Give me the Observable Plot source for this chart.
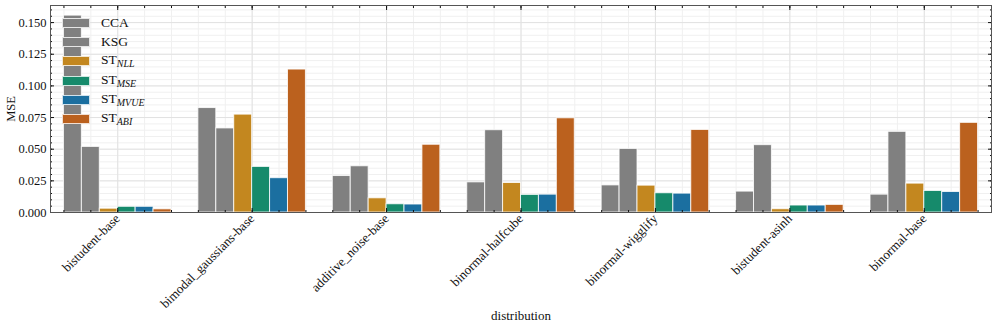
<!DOCTYPE html>
<html><head><meta charset="utf-8">
<script src="https://cdn.jsdelivr.net/npm/d3@7"></script>
<script src="https://cdn.jsdelivr.net/npm/@observablehq/plot@0.6"></script>
<style>
body{margin:0;background:#fff;font-family:"Liberation Serif","Times New Roman",serif;}
#wrap{position:relative;width:997px;height:327px;}
#legend{position:absolute;left:62px;top:13px;font-size:13.5px;color:#111;line-height:1;}
.row{display:flex;align-items:center;height:19.3px;}
.sw{width:28px;height:10px;box-sizing:border-box;border:1px solid rgba(255,255,255,0.8);margin-right:11px;}
sub{font-style:italic;font-size:10px;vertical-align:-3px;}
</style></head><body><div id="wrap"><div id="legend"></div></div>
<script>
const distributions = ["bistudent-base","bimodal_gaussians-base","additive_noise-base","binormal-halfcube","binormal-wigglify","bistudent-asinh","binormal-base"];
const methods = ["CCA","KSG","ST_NLL","ST_MSE","ST_MVUE","ST_ABI"];
const methodSubs = ["","","NLL","MSE","MVUE","ABI"];
const colors = ["#808080","#808080","#c3871f","#168a6b","#1b6fa0","#bb611e"];
const cca   = [0.1555,0.0825,0.0288,0.0238,0.0214,0.0165,0.0141];
const ksg   = [0.0518,0.0664,0.0365,0.0650,0.0502,0.0532,0.0637];
const stNLL = [0.0030,0.0773,0.0112,0.0233,0.0212,0.0026,0.0228];
const stMSE = [0.0045,0.0360,0.0065,0.0139,0.0152,0.0055,0.0170];
const stMVUE= [0.0045,0.0271,0.0063,0.0141,0.0149,0.0055,0.0162];
const stABI = [0.0025,0.1129,0.0535,0.0744,0.0652,0.0060,0.0708];
const yTicks = [0,0.025,0.05,0.075,0.1,0.125,0.15];
const yMinor = d3.range(0, 0.1631, 0.005);
const xMajor = d3.range(0, 7);
const xMinor = d3.range(-4, 65, 2).map(v => v / 10);

const series = [cca, ksg, stNLL, stMSE, stMVUE, stABI];
const groupWidth = 0.8, n = methods.length, bw = groupWidth / n;
const rows = [];
series.forEach((vals, m) => vals.forEach((v, d) => rows.push({
  d, m, method: methods[m], value: v,
  x1: d - groupWidth / 2 + m * bw, x2: d - groupWidth / 2 + (m + 1) * bw
})));

const font = "Liberation Serif";
const chart = Plot.plot({
  width: 997, height: 327,
  marginLeft: 50, marginRight: 6, marginTop: 5, marginBottom: 115,
  style: {fontFamily: font, fontSize: "12px", color: "#111", background: "#fff"},
  x: {type: "linear", domain: [-0.5, 6.5]},
  y: {domain: [0, 0.1635]},
  color: {domain: methods, range: colors},
  marks: [
    Plot.ruleY(yMinor, {stroke: "#f0f0f0", strokeWidth: 1}),
    Plot.ruleX(xMinor, {stroke: "#f0f0f0", strokeWidth: 1}),
    Plot.ruleY(yTicks, {stroke: "#e2e2e2", strokeWidth: 1}),
    Plot.ruleX(xMajor, {stroke: "#e2e2e2", strokeWidth: 1}),
    Plot.rectY(rows, {x1: "x1", x2: "x2", y: "value", fill: "method", stroke: "white", strokeOpacity: 0.8, strokeWidth: 1}),
    Plot.axisY(yTicks, {anchor: "left", tickSize: 0, tickPadding: 4, tickFormat: d3.format(".3f"), fontSize: 12.5,
      label: "MSE", labelAnchor: "center", labelOffset: 44, labelArrow: "none"}),
    Plot.axisY(yTicks, {anchor: "left", tickSize: -4, tickFormat: () => "", label: null}),
    Plot.axisY(yTicks, {anchor: "right", tickSize: -4, tickFormat: () => "", label: null}),
    Plot.axisY(yMinor, {anchor: "left", tickSize: -2, tickFormat: () => "", label: null}),
    Plot.axisY(yMinor, {anchor: "right", tickSize: -2, tickFormat: () => "", label: null}),
    Plot.axisX(xMajor, {anchor: "bottom", tickSize: 0, tickPadding: 4, tickRotate: -45, fontSize: 13,
      tickFormat: i => distributions[i], label: "distribution", labelAnchor: "center", labelOffset: 107, labelArrow: "none"}),
    Plot.axisX(xMajor, {anchor: "bottom", tickSize: -4, tickFormat: () => "", label: null}),
    Plot.axisX(xMajor, {anchor: "top", tickSize: -4, tickFormat: () => "", label: null}),
    Plot.axisX(xMinor, {anchor: "bottom", tickSize: -2, tickFormat: () => "", label: null}),
    Plot.axisX(xMinor, {anchor: "top", tickSize: -2, tickFormat: () => "", label: null}),
    Plot.frame({stroke: "#555", strokeWidth: 1})
  ]
});
document.getElementById("wrap").prepend(chart);

const legend = document.getElementById("legend");
methods.forEach((m, i) => {
  const row = document.createElement("div");
  row.className = "row";
  const sw = document.createElement("div");
  sw.className = "sw";
  sw.style.background = colors[i];
  const lab = document.createElement("span");
  if (methodSubs[i]) {
    lab.append("ST");
    const s = document.createElement("sub");
    s.textContent = methodSubs[i];
    lab.append(s);
  } else lab.textContent = m;
  row.append(sw, lab);
  legend.append(row);
});
</script></body></html>
